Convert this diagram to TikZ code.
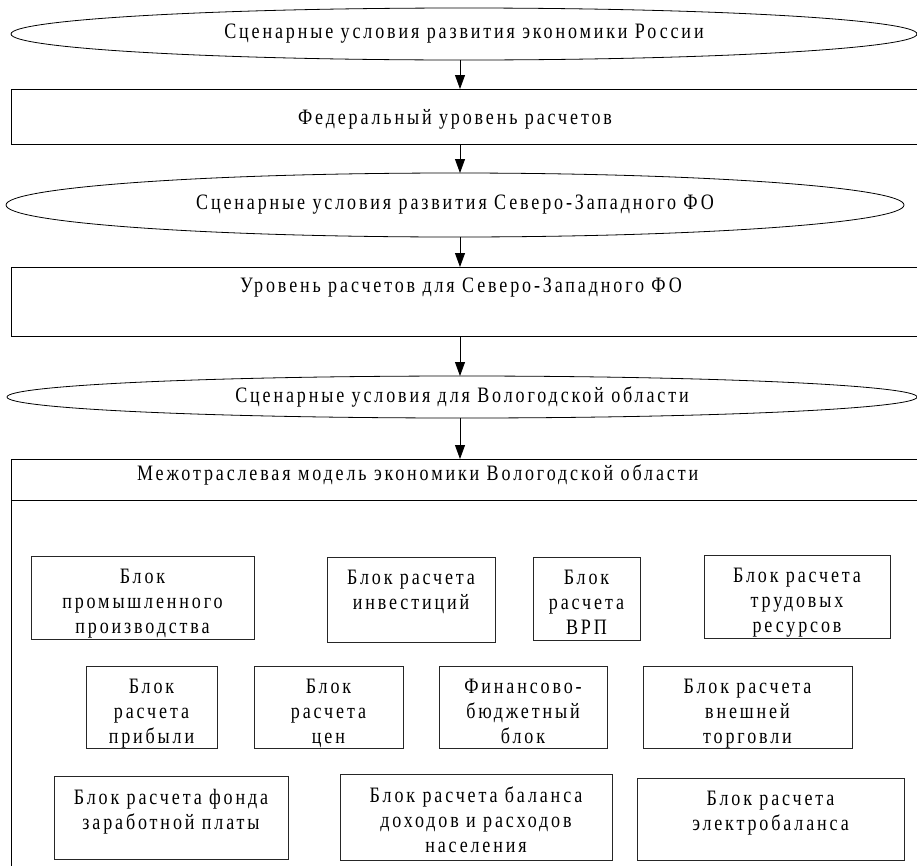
\documentclass[tikz,border=0pt]{standalone}
\usepackage{fontspec}
\setmainfont{Liberation Serif}[FakeStretch=0.82,LetterSpace=13]
\usetikzlibrary{shapes.geometric,arrows.meta}
\tikzset{
  frame/.style={draw=black,line width=0.8pt,rectangle,inner sep=0pt,outer sep=0pt},
  oval/.style={draw=black,line width=0.8pt,ellipse,inner sep=0pt,outer sep=0pt},
  blkbox/.style={draw=black!85,line width=0.8pt,rectangle,inner sep=0pt,outer sep=0pt},
  txt/.style={inner sep=0pt,outer sep=0pt,align=center,font=\fontsize{22}{25}\selectfont},
  arr/.style={line width=0.8pt,-{Triangle[length=14pt,width=10pt]}}
}
\newcommand\blk[6]{%
  \node[blkbox,minimum width={(#4-#2)*1pt},minimum height={(#5-#3)*1pt}] (#1) at ({(#2+#4)/2},{(#3+#5)/2}) {};
  \node[txt,anchor=north] (#1t) at ([yshift=-13pt]#1.north) {#6};
}
\begin{document}
\begin{tikzpicture}[x=1pt,y=-1pt]
\useasboundingbox (0,0) rectangle (917,865);
\clip (0,0) rectangle (917,865);
\coordinate (ax) at (460,0);
% top chain
\node[oval,minimum width=906pt,minimum height=52pt,txt] (e1) at (464,34) {Сценарные условия развития экономики России};
\node[frame,minimum width=919pt,minimum height=55pt] (b1) at (470.5,116.5) {};
\node[txt] (b1t) at (455,119) {Федеральный уровень расчетов};
\node[oval,minimum width=898pt,minimum height=64pt,txt] (e2) at (455,205) {Сценарные условия развития Северо-Западного ФО};
\node[frame,minimum width=919pt,minimum height=69pt] (b2) at (470.5,301.5) {};
\node[txt] (b2t) at (461,288) {Уровень расчетов для Северо-Западного ФО};
\node[oval,minimum width=910pt,minimum height=42pt,txt] (e3) at (462,397) {Сценарные условия для Вологодской области};
\node[frame,minimum width=919pt,minimum height=41pt] (hdr) at (470.5,479.5) {};
\node[txt,anchor=west] (hdrt) at (137,475) {Межотраслевая модель экономики Вологодской области};
\node[frame,minimum width=919pt,minimum height=380pt] (body) at (470.5,690) {};
% arrows
\draw[arr] (e1.south -| ax) -- (b1.north -| ax);
\draw[arr] (b1.south -| ax) -- (e2.north -| ax);
\draw[arr] (e2.south -| ax) -- (b2.north -| ax);
\draw[arr] (b2.south -| ax) -- (e3.north -| ax);
\draw[arr] (e3.south -| ax) -- (hdr.north -| ax);
% inner blocks
\blk{p1}{31}{556}{254}{639}{Блок\\промышленного\\производства}
\blk{p2}{327}{557}{495}{642}{Блок расчета\\инвестиций}
\blk{p3}{533}{557}{640}{640}{Блок\\расчета\\ВРП}
\blk{p4}{704}{555}{890}{638}{Блок расчета\\трудовых\\ресурсов}
\blk{q1}{86}{666}{217}{748}{Блок\\расчета\\прибыли}
\blk{q2}{254}{666}{403}{748}{Блок\\расчета\\цен}
\blk{q3}{439}{666}{607}{748}{Финансово-\\бюджетный\\блок}
\blk{q4}{643}{666}{852}{748}{Блок расчета\\внешней\\торговли}
\blk{r1}{54}{776}{288}{859}{Блок расчета фонда\\заработной платы}
\blk{r2}{340}{774}{612}{860}{Блок расчета баланса\\доходов и расходов\\населения}
\blk{r3}{637}{778}{904}{860}{Блок расчета\\электробаланса}
\end{tikzpicture}
\end{document}
